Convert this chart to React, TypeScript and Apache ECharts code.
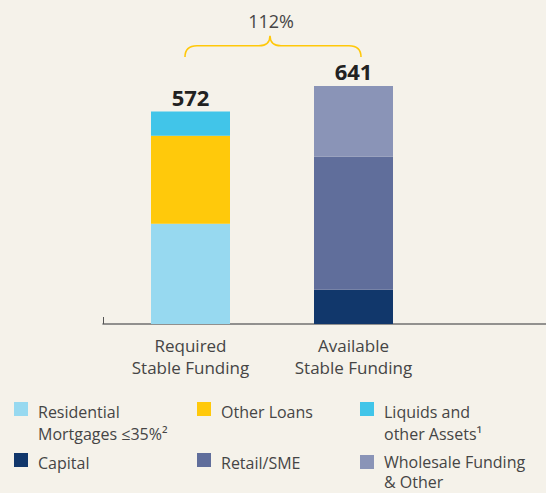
import React, { useEffect, useRef } from "react";
import * as echarts from "echarts";

const categories = ["Required\nStable Funding", "Available\nStable Funding"];
const residentialMortgages = [270, null];
const otherLoans = [237, null];
const liquidsOtherAssets = [65, null];
const capital = [null, 92];
const retailSme = [null, 358];
const wholesaleFunding = [null, 191];
const legendLabels = [
  "Residential\nMortgages ≤35%²",
  "Other Loans",
  "Liquids and\nother Assets¹",
  "Capital",
  "Retail/SME",
  "Wholesale Funding\n& Other",
];

const FONT = '"Open Sans", "Noto Sans", sans-serif';
const BG = "#f5f2ea";
const TEXT = "#454545";

let braceRegistered = false;
function registerBrace() {
  if (braceRegistered) return;
  const d =
    "M185 57 C185 50 188 45.7 197 45.7 L259 45.7 C266 45.7 270 42 270 35.7 C270 42 274 45.7 281 45.7 L349 45.7 C358 45.7 361 50 361 57";
  echarts.graphic.registerShape("brace", echarts.graphic.extendPath(d, {}));
  braceRegistered = true;
}

export default function App() {
  const ref = useRef<HTMLDivElement>(null);
  useEffect(() => {
    if (!ref.current) return;
    registerBrace();
    const chart = echarts.init(ref.current, null, { renderer: "svg" });
    const seriesDefs = [
      { name: "Residential Mortgages ≤35%", data: residentialMortgages, color: "#97d9f0" },
      { name: "Other Loans", data: otherLoans, color: "#ffc90b" },
      { name: "Liquids and other Assets", data: liquidsOtherAssets, color: "#41c5e9" },
      { name: "Capital", data: capital, color: "#11376b" },
      { name: "Retail/SME", data: retailSme, color: "#606e9b" },
      { name: "Wholesale Funding & Other", data: wholesaleFunding, color: "#8a94b7" },
    ];
    const totals = categories.map((_, i) =>
      seriesDefs.reduce((s, d) => s + ((d.data[i] as number | null) ?? 0), 0)
    );
    const ratio = Math.round((totals[1] / totals[0]) * 100);
    const topSeries = categories.map((_, i) => {
      let t = -1;
      seriesDefs.forEach((d, k) => {
        if (d.data[i] != null) t = k;
      });
      return t;
    });

    const legendPos = [
      { x: 14, y: 402, ty: 401, lh: 22 },
      { x: 197, y: 402, ty: 401, lh: 22 },
      { x: 360, y: 402, ty: 401, lh: 22 },
      { x: 14, y: 453, ty: 452, lh: 22 },
      { x: 197, y: 453, ty: 452, lh: 22 },
      { x: 360, y: 455, ty: 452, lh: 20 },
    ];
    const legendGraphics: any[] = [];
    seriesDefs.forEach((d, k) => {
      const p = legendPos[k];
      legendGraphics.push({
        type: "rect",
        shape: { x: p.x, y: p.y, width: 14, height: 14 },
        style: { fill: d.color },
      });
      legendGraphics.push({
        type: "text",
        x: p.x + 24,
        y: p.ty,
        style: {
          text: legendLabels[k],
          fontSize: 16,
          fontFamily: FONT,
          fill: TEXT,
          lineHeight: p.lh,
          align: "left",
          verticalAlign: "top",
        },
      });
    });

    chart.setOption({
      animation: false,
      backgroundColor: BG,
      grid: [
        { left: 109, right: 111, top: 64, height: 260 },
        { left: 103, right: 0, top: 64, height: 260 },
      ],
      xAxis: [
        {
          type: "category",
          gridIndex: 0,
          data: categories,
          axisLine: { show: false },
          axisTick: { show: false },
          axisLabel: {
            interval: 0,
            fontSize: 17,
            fontFamily: FONT,
            color: TEXT,
            lineHeight: 22,
            margin: 10,
          },
        },
        {
          type: "value",
          gridIndex: 1,
          min: 0,
          max: 1,
          interval: 1,
          axisLine: { show: true, lineStyle: { color: "#707070", width: 1.6 } },
          axisTick: { show: true, inside: true, length: 7, lineStyle: { color: "#555", width: 1 } },
          axisLabel: { show: false },
          splitLine: { show: false },
        },
      ],
      yAxis: [
        { type: "value", gridIndex: 0, min: 0, max: 700, show: false },
        { type: "value", gridIndex: 1, min: 0, max: 1, show: false },
      ],
      series: seriesDefs.map((d, k) => ({
        type: "bar",
        name: d.name,
        stack: "total",
        xAxisIndex: 0,
        yAxisIndex: 0,
        barWidth: 79,
        itemStyle: { color: d.color },
        data: d.data.map((v, i) => ({
          value: v,
          label: { show: topSeries[i] === k },
        })),
        label: {
          show: false,
          position: "top",
          distance: 4,
          fontSize: 22,
          fontWeight: "bold",
          fontFamily: FONT,
          color: "#222",
          formatter: (p: any) => String(totals[p.dataIndex]),
        },
      })),
      graphic: [
        {
          type: "brace",
          shape: {},
          style: { stroke: "#ffc80a", fill: "none", lineWidth: 1.6 },
        },
        {
          type: "text",
          x: 271,
          y: 21,
          style: {
            text: ratio + "%",
            fontSize: 18,
            fontFamily: FONT,
            fill: TEXT,
            align: "center",
            verticalAlign: "middle",
          },
        },
        ...legendGraphics,
      ],
    });
    return () => chart.dispose();
  }, []);
  return (
    <div
      ref={ref}
      style={{ position: "fixed", left: 0, top: 0, width: 546, height: 493, background: BG }}
    />
  );
}
